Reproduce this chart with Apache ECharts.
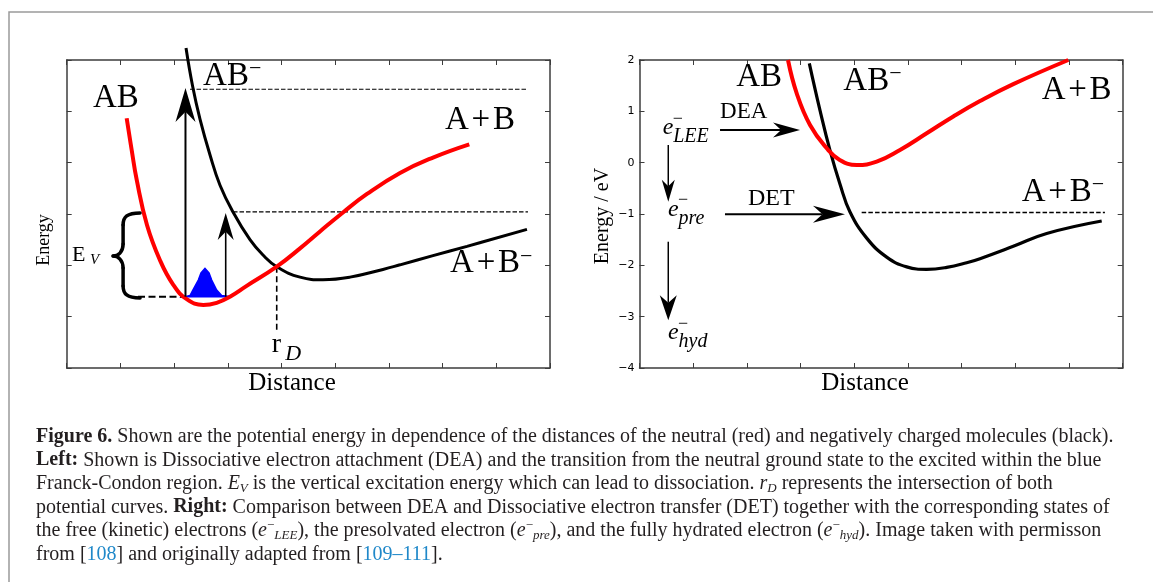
<!DOCTYPE html>
<html>
<head>
<meta charset="utf-8">
<script src="https://cdn.jsdelivr.net/npm/echarts@6/dist/echarts.min.js"></script>
<style>
html, body { margin: 0; padding: 0; background: #fff; }
#main { width: 1153px; height: 582px; }
</style>
</head>
<body>
<div id="main"></div>
<script>
// ---- left panel (arbitrary units) ----
var leftNeutral = [[1.117,4.865],[1.21,4.247],[1.304,3.663],[1.495,2.786],[1.737,2.1],[1.985,1.62],
  [2.235,1.34],[2.544,1.227],[2.793,1.27],[3.041,1.389],[3.352,1.6],[3.911,1.974],[4.345,2.33],
  [4.717,2.66],[5.145,3.03],[5.592,3.39],[6.207,3.8],[6.821,4.1],[7.497,4.358]];
var leftAnion = [[2.222,6.234],[2.343,5.5],[2.482,4.85],[2.669,4.15],[2.855,3.56],[3.097,3.04],
  [3.413,2.5],[3.655,2.2],[3.911,1.974],[4.345,1.77],[4.773,1.72],[5.276,1.77],[5.89,1.92],
  [6.207,2.01],[6.821,2.19],[7.454,2.37],[8.571,2.7]];
var bumpX = [2.203,2.296,2.352,2.451,2.501,2.575,2.65,2.7,2.793,2.886,3.06];
var bumpY = [1.389,1.412,1.52,1.714,1.851,1.942,1.851,1.714,1.52,1.412,1.389];
var leftDashed = [
  [[2.296,5.43],[8.59,5.43]],
  [[3.097,3.04],[8.59,3.04]],
  [[1.328,1.389],[2.203,1.389]],
  [[3.911,1.974],[3.911,0.74]]
];
var leftArrows = [[2.212,1.389,2.212,5.455],[2.961,1.389,2.961,3.02]];

// ---- right panel (Energy / eV) ----
var rightNeutral = [[2.766,2.0],[2.928,1.351],[3.176,0.734],[3.487,0.28],[3.729,0.052],[4.046,-0.046],
  [4.418,0.019],[4.852,0.247],[5.349,0.572],[5.845,0.9],[6.342,1.2],[6.962,1.53],[7.987,2.0]];
var rightAnion = [[3.163,1.936],[3.362,1.02],[3.548,0.24],[3.735,-0.42],[3.921,-0.96],[4.232,-1.47],
  [4.604,-1.84],[4.977,-2.03],[5.349,-2.078],[5.722,-2.04],[6.094,-1.95],[6.342,-1.87],
  [6.962,-1.63],[7.584,-1.38],[8.609,-1.137]];
var rightDashed = [[[4.138,-0.97],[8.669,-0.97]]];
var rightArrows = [[1.5,0.636,2.99,0.636],[1.592,-1.006,3.827,-1.006],[0.536,0.344,0.536,-0.76],[0.536,-1.54,0.536,-3.07]];
var rightTicks = [-4,-3,-2,-1,0,1,2];

var SERIF = '"Liberation Serif", "DejaVu Serif", serif';
var AXIS = '#3c3c3c';
var SMOOTH = 0.45;

var chart = echarts.init(document.getElementById('main'));

function xAx(gi, pos) {
  return { type: 'value', gridIndex: gi, position: pos, min: 0, max: 9, interval: 1,
    axisLine: { show: true, onZero: false, lineStyle: { color: AXIS, width: 1.5 } },
    axisTick: { show: true, inside: true, length: 5, lineStyle: { color: AXIS, width: 1 } },
    axisLabel: { show: false }, splitLine: { show: false } };
}
function yAx(gi, pos, min, max, labels) {
  return { type: 'value', gridIndex: gi, position: pos, min: min, max: max, interval: 1,
    axisLine: { show: true, onZero: false, lineStyle: { color: AXIS, width: 1.5 } },
    axisTick: { show: true, inside: true, length: 5, lineStyle: { color: AXIS, width: 1 } },
    axisLabel: { show: labels, fontSize: 11, color: '#000', fontFamily: 'DejaVu Sans', margin: 5,
      formatter: function (v) { return String(v).replace('-', '\u2212'); } },
    splitLine: { show: false } };
}

var arrowHeadsLeft = [{ head: 34, half: 10, w: 2 }, { head: 27, half: 8, w: 1.6 }];
var arrowHeadsRight = [{ head: 27, half: 7.5, w: 1.8 }, { head: 32, half: 8.5, w: 2 },
  { head: 22, half: 6.5, w: 1.5 }, { head: 25, half: 8.5, w: 1.5 }];

function arrowRender(heads) {
  return function (params, api) {
    var p1 = api.coord([api.value(0), api.value(1)]);
    var p2 = api.coord([api.value(2), api.value(3)]);
    var s = heads[params.dataIndex];
    var dx = p2[0] - p1[0], dy = p2[1] - p1[1];
    var len = Math.sqrt(dx * dx + dy * dy);
    var ux = dx / len, uy = dy / len, nx = -uy, ny = ux;
    var bx = p2[0] - ux * s.head, by = p2[1] - uy * s.head;
    var notch = [p2[0] - ux * s.head * 0.7, p2[1] - uy * s.head * 0.7];
    return { type: 'group', children: [
      { type: 'line', shape: { x1: p1[0], y1: p1[1], x2: notch[0], y2: notch[1] },
        style: { stroke: '#000', lineWidth: s.w } },
      { type: 'polygon', shape: { points: [p2, [bx + nx * s.half, by + ny * s.half], notch,
        [bx - nx * s.half, by - ny * s.half]] }, style: { fill: '#000' } }
    ] };
  };
}

function dashedSeries(segs, xi, yi, widths, dashes) {
  return segs.map(function (seg, i) {
    return { type: 'line', xAxisIndex: xi, yAxisIndex: yi, data: seg, symbol: 'none', silent: true,
      clip: false, z: 3, lineStyle: { color: '#000', width: widths[i], type: dashes[i] } };
  });
}

var series = [
  { type: 'custom', xAxisIndex: 0, yAxisIndex: 0, silent: true, z: 2, data: [[0, 0]],
    renderItem: function (params, api) {
      var pts = bumpX.map(function (x, i) { return api.coord([x, bumpY[i]]); });
      return { type: 'polygon', shape: { points: pts },
        style: { fill: '#0000ff', stroke: '#0000ff', lineWidth: 1.5 } };
    } },
  { type: 'line', xAxisIndex: 0, yAxisIndex: 0, data: leftAnion, smooth: SMOOTH, symbol: 'none',
    clip: false, z: 4, lineStyle: { color: '#000', width: 3 } },
  { type: 'line', xAxisIndex: 0, yAxisIndex: 0, data: leftNeutral, smooth: SMOOTH, symbol: 'none',
    clip: false, z: 5, lineStyle: { color: '#ff0000', width: 4 } },
  { type: 'custom', xAxisIndex: 0, yAxisIndex: 0, silent: true, z: 6, data: leftArrows,
    renderItem: arrowRender(arrowHeadsLeft) },
  { type: 'line', xAxisIndex: 2, yAxisIndex: 2, data: rightAnion, smooth: SMOOTH, symbol: 'none',
    z: 4, lineStyle: { color: '#000', width: 3.2 } },
  { type: 'line', xAxisIndex: 2, yAxisIndex: 2, data: rightNeutral, smooth: SMOOTH, symbol: 'none',
    z: 5, lineStyle: { color: '#ff0000', width: 4 } },
  { type: 'custom', xAxisIndex: 2, yAxisIndex: 2, silent: true, z: 6, data: rightArrows,
    renderItem: arrowRender(arrowHeadsRight) }
].concat(
  dashedSeries(leftDashed, 0, 0, [1.2, 1.2, 2, 1.6], [[4.5, 2], [4.5, 2], [7, 3.5], [6, 3.5]]),
  dashedSeries(rightDashed, 2, 2, [1.5], [[4.5, 2.2]])
);

chart.setOption({
  animation: false,
  grid: [
    { left: 66.7, top: 60, width: 483.3, height: 308 },
    { left: 639.5, top: 60, width: 483.2, height: 308 }
  ],
  xAxis: [xAx(0, 'bottom'), xAx(0, 'top'), xAx(1, 'bottom'), xAx(1, 'top')],
  yAxis: [yAx(0, 'left', 0, 6, false), yAx(0, 'right', 0, 6, false),
    yAx(1, 'left', rightTicks[0], rightTicks[rightTicks.length - 1], true), yAx(1, 'right', -4, 2, false)],
  series: series
});

// ---- annotations, anchored in data coordinates ----
function P(gi, x, y) { return chart.convertToPixel({ gridIndex: gi }, [x, y]); }
function txt(p, text, size, extra, dx, dy) {
  var style = { text: text, fontFamily: SERIF, fontSize: size, fill: '#000', align: 'left', verticalAlign: 'middle' };
  for (var k in extra) style[k] = extra[k];
  return { type: 'text', x: p[0] + (dx || 0), y: p[1] + (dy || 0), silent: true, z: 100, style: style };
}
var bigRich = { lineHeight: 36, rich: { s: { fontFamily: SERIF, fontSize: 22, lineHeight: 16, verticalAlign: 'top', fill: '#000' } } };
var HS = '\u200A+\u200A';

var leftLabels = [['AB', 0.49, 5.26], ['AB{s|\u2212}', 2.54, 5.69], ['A' + HS + 'B', 7.045, 4.83], ['A' + HS + 'B{s|\u2212}', 7.14, 2.03]];
var rightLabels = [['AB', 1.8, 1.66], ['AB{s|\u2212}', 3.796, 1.59], ['A' + HS + 'B', 7.49, 1.415], ['A' + HS + 'B{s|\u2212}', 7.12, -0.58]];

var g = [];
g.push({ type: 'rect', silent: true, z: 0, shape: { x: 9, y: 12, width: 1300, height: 800 },
  style: { fill: 'none', stroke: '#9a9a9a', lineWidth: 1.5 } });
leftLabels.forEach(function (l) { g.push(txt(P(0, l[1], l[2]), l[0], 33, bigRich)); });
rightLabels.forEach(function (l) { g.push(txt(P(1, l[1], l[2]), l[0], 33, bigRich)); });

// r_D and E_V
g.push(txt(P(0, 3.82, 0.448), 'r', 28));
g.push(txt(P(0, 4.07, 0.263), 'D', 22, { fontStyle: 'italic' }));
g.push(txt(P(0, 0.1, 2.2), 'E', 22));
g.push(txt(P(0, 0.436, 2.1), 'V', 15, { fontStyle: 'italic' }));

// brace
var bt = P(0, 1.366, 3.02), bm = P(0, 0.864, 2.18), bb = P(0, 1.366, 1.364);
var xr = bt[0], xl = bm[0], xc = xl + 10, yt = bt[1], ym = bm[1], yb = bb[1];
var bs = { stroke: '#000', lineWidth: 3.5, fill: 'none', lineCap: 'round' };
[
  [xr, yt, xc, yt + 12, xc + 4, yt, xc, yt + 4],
  [xc, ym - 12, xl, ym, xc, ym - 4, xl + 5, ym],
  [xl, ym, xc, ym + 12, xl + 5, ym, xc, ym + 4],
  [xc, yb - 12, xr, yb, xc, yb - 4, xc + 4, yb]
].forEach(function (c) {
  g.push({ type: 'bezierCurve', silent: true, z: 100, shape: { x1: c[0], y1: c[1], x2: c[2], y2: c[3],
    cpx1: c[4], cpy1: c[5], cpx2: c[6], cpy2: c[7] }, style: bs });
});
g.push({ type: 'line', silent: true, z: 100, shape: { x1: xc, y1: yt + 12, x2: xc, y2: ym - 12 }, style: bs });
g.push({ type: 'line', silent: true, z: 100, shape: { x1: xc, y1: ym + 12, x2: xc, y2: yb - 12 }, style: bs });

// right panel texts
g.push(txt(P(1, 1.5, 0.993), 'DEA', 23));
g.push(txt(P(1, 2.02, -0.708), 'DET', 24));
[['LEE', 0.432, 0.636], ['pre', 0.531, -0.955], ['hyd', 0.531, -3.357]].forEach(function (e) {
  var p = P(1, e[1], e[2]);
  g.push(txt(p, 'e', 24, { fontStyle: 'italic' }, 0, -2));
  g.push(txt(p, '\u2212', 18, {}, 10, -11));
  g.push(txt(p, e[0], 20, { fontStyle: 'italic' }, 10.5, 7));
});

// axis titles
g.push(txt([292, 383], 'Distance', 25, { align: 'center' }));
g.push(txt([865, 383], 'Distance', 25, { align: 'center' }));
g.push({ type: 'text', x: 44, y: 240, rotation: Math.PI / 2, silent: true, z: 100,
  style: { text: 'Energy', fontFamily: SERIF, fontSize: 18, fill: '#000', align: 'center', verticalAlign: 'middle' } });
g.push({ type: 'text', x: 603, y: 216, rotation: Math.PI / 2, silent: true, z: 100,
  style: { text: 'Energy / eV', fontFamily: SERIF, fontSize: 20, fill: '#000', align: 'center', verticalAlign: 'middle' } });

// caption
var capLines = [
  '{b|Figure 6.} Shown are the potential energy in dependence of the distances of the neutral (red) and negatively charged molecules (black).',
  '{b|Left:} Shown is Dissociative electron attachment (DEA) and the transition from the neutral ground state to the excited within the blue',
  'Franck-Condon region. {i|E}{isub|V} is the vertical excitation energy which can lead to dissociation. {i|r}{isub|D} represents the intersection of both',
  'potential curves. {b|Right:} Comparison between DEA and Dissociative electron transfer (DET) together with the corresponding states of',
  'the free (kinetic) electrons ({i|e}{sup|\u2212}{isub|LEE}), the presolvated electron ({i|e}{sup|\u2212}{isub|pre}), and the fully hydrated electron ({i|e}{sup|\u2212}{isub|hyd}). Image taken with permisson',
  'from [{blue|108}] and originally adapted from [{blue|109\u2013111}].'
];
var CF = 20, CL = 23.5, CC = '#231f20';
g.push({ type: 'text', x: 36, y: 425, silent: true, z: 100,
  style: { text: capLines.join('\n'), fontFamily: SERIF, fontSize: CF, lineHeight: CL, fill: CC,
    align: 'left', verticalAlign: 'top',
    rich: {
      b: { fontFamily: SERIF, fontSize: CF, fontWeight: 'bold', lineHeight: CL, fill: CC },
      i: { fontFamily: SERIF, fontSize: CF, fontStyle: 'italic', lineHeight: CL, fill: CC },
      isub: { fontFamily: SERIF, fontSize: 13, fontStyle: 'italic', lineHeight: 14, verticalAlign: 'bottom', fill: CC },
      sup: { fontFamily: SERIF, fontSize: 13, lineHeight: 14, verticalAlign: 'top', fill: CC },
      blue: { fontFamily: SERIF, fontSize: CF, lineHeight: CL, fill: '#1f88c9' }
    } } });

chart.setOption({ graphic: g });
</script>
</body>
</html>
